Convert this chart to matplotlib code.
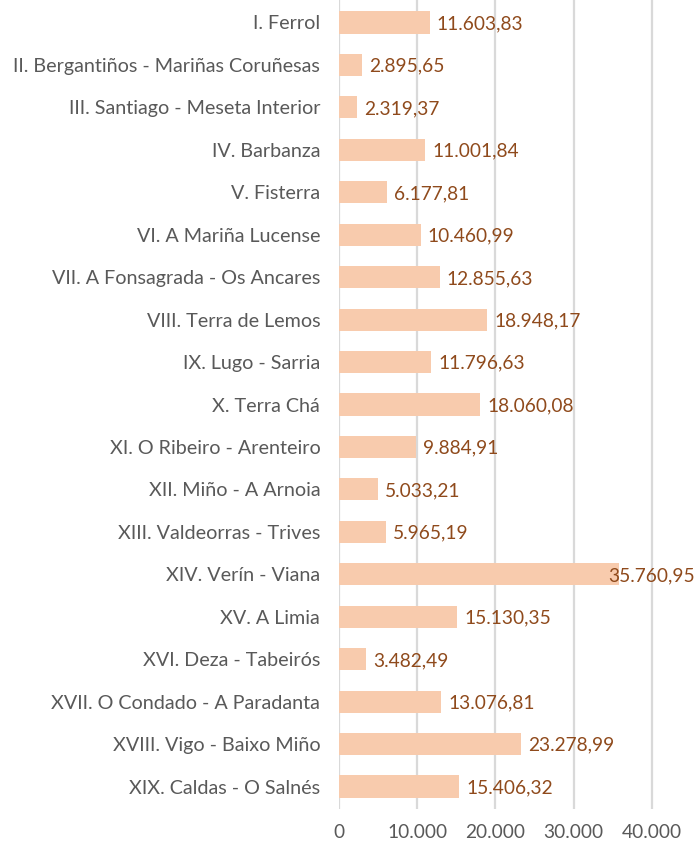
import numpy as np
import matplotlib.pyplot as plt

comarcas = [
    "I. Ferrol",
    "II. Bergantiños - Mariñas Coruñesas",
    "III. Santiago - Meseta Interior",
    "IV. Barbanza",
    "V. Fisterra",
    "VI. A Mariña Lucense",
    "VII. A Fonsagrada - Os Ancares",
    "VIII. Terra de Lemos",
    "IX. Lugo - Sarria",
    "X. Terra Chá",
    "XI. O Ribeiro - Arenteiro",
    "XII. Miño - A Arnoia",
    "XIII. Valdeorras - Trives",
    "XIV. Verín - Viana",
    "XV. A Limia",
    "XVI. Deza - Tabeirós",
    "XVII. O Condado - A Paradanta",
    "XVIII. Vigo - Baixo Miño",
    "XIX. Caldas - O Salnés",
]
valores = [
    11603.83, 2895.65, 2319.37, 11001.84, 6177.81, 10460.99, 12855.63,
    18948.17, 11796.63, 18060.08, 9884.91, 5033.21, 5965.19, 35760.95,
    15130.35, 3482.49, 13076.81, 23278.99, 15406.32,
]
xticks = [0, 10000, 20000, 30000, 40000]


def es_num(v, dec=2):
    # formato español: punto de miles, coma decimal
    s = f"{v:,.{dec}f}"
    return s.replace(",", "X").replace(".", ",").replace("X", ".")


plt.rcParams['font.family'] = ['Lato', 'DejaVu Sans']

fig = plt.figure(figsize=(6.96, 8.47), dpi=100)
ax = fig.add_axes([339 / 696, 38 / 847, 1 - 339 / 696, 809 / 847])

y = np.arange(len(comarcas))
ax.barh(y, valores, height=0.52, color='#F8CBAD', zorder=2)

xmax = 45650
ax.set_xlim(0, xmax)
ax.set_ylim(len(comarcas) - 0.47, -0.53)

for yi, v in zip(y, valores):
    txt = es_num(v)
    if v > 34000:
        # no cabe a la derecha: se ajusta al borde
        ax.text(xmax - 150, yi + 0.03, txt, ha='right', va='center',
                fontsize=13.8, color='#8F4A1C', zorder=3)
    else:
        ax.text(v + 900, yi + 0.03, txt, ha='left', va='center',
                fontsize=13.8, color='#8F4A1C', zorder=3)

ax.set_yticks(y)
ax.set_yticklabels(comarcas, fontsize=14.2, color='#595959')
ax.set_xticks(xticks)
ax.set_xticklabels([es_num(t, 0) for t in xticks], fontsize=13.8, color='#595959')
ax.tick_params(axis='both', length=0)
ax.tick_params(axis='y', pad=13.5)
ax.tick_params(axis='x', pad=11)

ax.grid(axis='x', color='#D9D9D9', linewidth=1.6, zorder=0)
for s in ax.spines.values():
    s.set_visible(False)

fig.savefig('out.png', dpi=100)
